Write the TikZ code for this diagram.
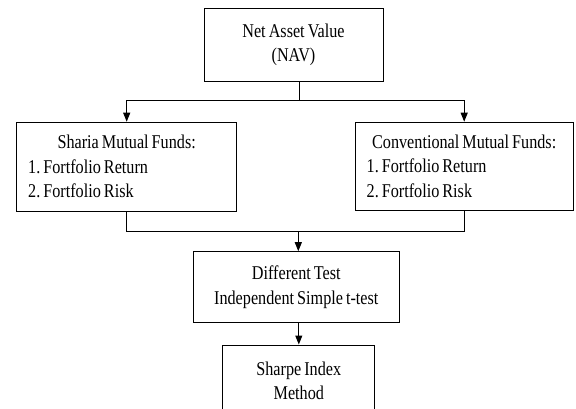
\documentclass[tikz,border=0pt]{standalone}
\usepackage{fontspec}
\setmainfont{Liberation Serif}[FakeStretch=0.83,WordSpace=0.75]
\usepackage{tikz}
\usetikzlibrary{arrows.meta}

\begin{document}
\begin{tikzpicture}[
   x=1pt,y=-1pt,
   box/.style={draw,line width=1pt,inner sep=0pt,font=\fontsize{19.5}{24.5}\selectfont},
   list/.style={box,align=left,inner xsep=11.5pt,text width=197pt,
      execute at begin node={\spaceskip=0pt\xspaceskip=0pt\frenchspacing}},
   flow/.style={-{Triangle[length=9pt,width=7pt]},line width=1pt},
   link/.style={line width=1pt}]
\useasboundingbox (0,0) rectangle (576,408);
\node[box,align=center,minimum width=179pt,minimum height=72.7pt] (NAV) at (293.5,44.7) {Net Asset Value\\(NAV)};
\node[list,minimum height=89pt] (SMF) at (126.7,166.7) {\makebox[\hsize]{Sharia Mutual Funds:}\\1. Fortfolio Return\\2. Fortfolio Risk};
\node[list,minimum height=88pt,text width=195pt] (CMF) at (464.2,166.2) {\makebox[\hsize]{Conventional Mutual Funds:}\\1. Fortfolio Return\\2. Fortfolio Risk};
\node[box,align=center,minimum width=206pt,minimum height=71pt] (Test) at (296.3,287.2) {Different Test\\Independent Simple t-test};
\node[box,align=center,minimum width=152.3pt,minimum height=72pt] (SIM) at (298.8,381) {Sharpe Index\\Method};
\coordinate (split) at (299,100);
\coordinate (join) at (298.3,231.7);
\draw[link] (NAV.south -| split) -- (split);
\draw[flow] (split) -| (SMF.north);
\draw[flow] (split) -| (CMF.north);
\draw[link] (SMF.south) |- (join);
\draw[link] (CMF.south) |- (join);
\draw[flow] (join) -- (Test.north -| join);
\draw[flow] (Test.south -| SIM.north) -- (SIM.north);
\end{tikzpicture}
\end{document}
